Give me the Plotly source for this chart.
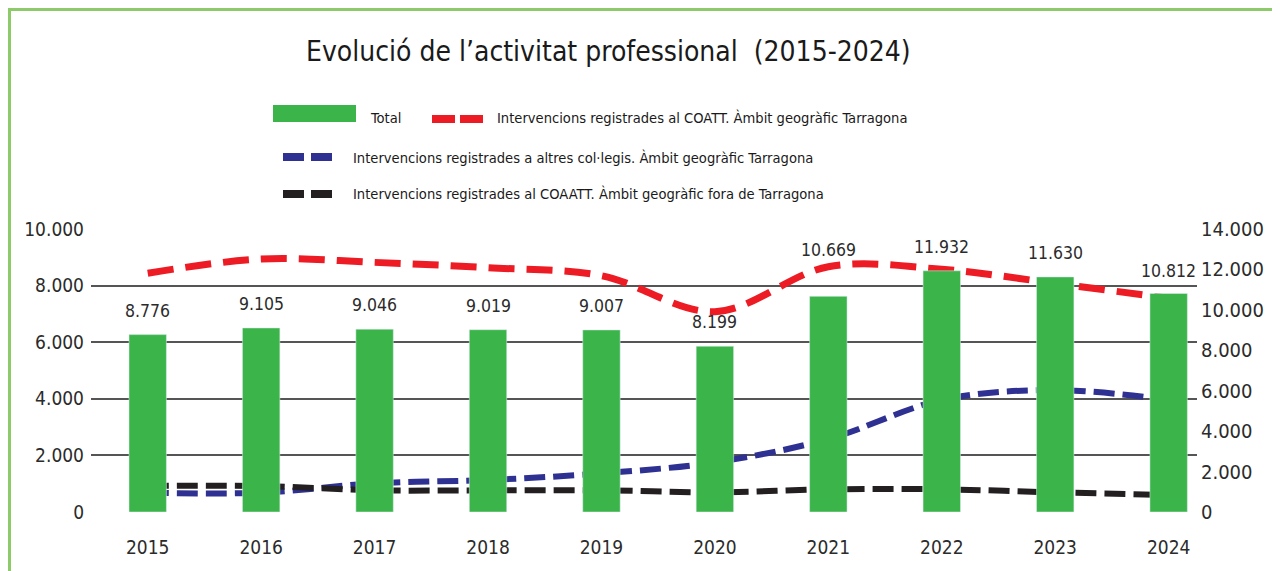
import plotly.graph_objects as go

# ---------------- data ----------------
years = [2015, 2016, 2017, 2018, 2019, 2020, 2021, 2022, 2023, 2024]
total = [8776, 9105, 9046, 9019, 9007, 8199, 10669, 11932, 11630, 10812]
coatt_tarragona = [8436, 8940, 8821, 8633, 8350, 7079, 8668, 8575, 8080, 7550]
altres_col = [682, 682, 1013, 1131, 1366, 1755, 2579, 3957, 4311, 3957]
coatt_fora = [919, 919, 766, 766, 766, 695, 801, 801, 695, 601]
left_ticks = [0, 2000, 4000, 6000, 8000, 10000]
right_ticks = [0, 2000, 4000, 6000, 8000, 10000, 12000, 14000]

title_text = "Evolució de l’activitat professional  (2015-2024)"
names = ["Total",
         "Intervencions registrades al COATT. Àmbit geogràfic Tarragona",
         "Intervencions registrades a altres col·legis. Àmbit geogràfic Tarragona",
         "Intervencions registrades al COAATT. Àmbit geogràfic fora de Tarragona"]


def fmt(v):
    return f"{v:,}".replace(",", ".")


FONT = "Liberation Sans Narrow, DejaVu Sans Condensed, Arial Narrow, sans-serif"
GREEN = "#3bb54a"
RED = "#ed1c24"
BLUE = "#2e3192"
BLACK = "#231f20"
TXT = "#2b2b2b"

# page has an 8px body margin: build the figure 8px smaller and work in screen px
OFF = 8
W, H = 1280 - OFF, 571 - OFF
L, R, T, B = 91, 1197, 229, 512  # plot area in screen pixels


def xp(px):
    return (px - L) / (R - L)


def yp(py):
    return (B - py) / (B - T)


fig = go.Figure()
fig.add_trace(go.Bar(x=years, y=total, name=names[0], marker_color=GREEN,
                     width=0.33, yaxis="y2", showlegend=False))
fig.add_trace(go.Scatter(x=years, y=coatt_tarragona, name=names[1], mode="lines",
                         line=dict(color=RED, width=7, dash="26px,12px", shape="spline"),
                         yaxis="y", showlegend=False))
fig.add_trace(go.Scatter(x=years, y=altres_col, name=names[2], mode="lines",
                         line=dict(color=BLUE, width=6, dash="21px,8px", shape="spline"),
                         yaxis="y", showlegend=False))
fig.add_trace(go.Scatter(x=years, y=coatt_fora, name=names[3], mode="lines",
                         line=dict(color=BLACK, width=6, dash="21px,8px", shape="spline"),
                         yaxis="y", showlegend=False))

annotations = []
label_shift = [12, 12, 12, 12, 12, 12, 34, 12, 12, 10]
for yr, v, s in zip(years, total, label_shift):
    annotations.append(dict(x=yr, y=v, xref="x", yref="y2", text=fmt(v), showarrow=False,
                            yanchor="bottom", yshift=s,
                            font=dict(family=FONT, size=17.5, color=TXT)))

# title
annotations.append(dict(x=xp(608), y=yp(51), xref="paper", yref="paper", text=title_text,
                        showarrow=False, xanchor="center", yanchor="middle",
                        font=dict(family=FONT, size=28, color="#1a1a1a")))

# legend texts
leg_font = dict(family=FONT, size=14.6, color="#1a1a1a")
for txt, px, py in [(names[0], 368, 117), (names[1], 495, 117),
                    (names[2], 351, 157), (names[3], 351, 193)]:
    annotations.append(dict(x=xp(px), y=yp(py), xref="paper", yref="paper", text=txt,
                            showarrow=False, xanchor="left", yanchor="middle", font=leg_font))

shapes = []
# frame
shapes.append(dict(type="line", xref="paper", yref="paper", x0=xp(8), x1=xp(1282),
                   y0=yp(9.5), y1=yp(9.5), line=dict(color="#8dcb6a", width=3)))
shapes.append(dict(type="line", xref="paper", yref="paper", x0=xp(9.5), x1=xp(9.5),
                   y0=yp(8), y1=yp(575), line=dict(color="#8dcb6a", width=3)))
# legend swatches
shapes.append(dict(type="rect", xref="paper", yref="paper", x0=xp(273), x1=xp(356),
                   y0=yp(122), y1=yp(105), fillcolor=GREEN, line=dict(width=0)))
for col, y, segs in [(RED, 119, [(432, 455), (460, 483)]),
                     (BLUE, 157, [(283, 304), (311, 332)]),
                     (BLACK, 194, [(283, 304), (311, 332)])]:
    for a, b in segs:
        shapes.append(dict(type="line", xref="paper", yref="paper", x0=xp(a), x1=xp(b),
                           y0=yp(y), y1=yp(y), line=dict(color=col, width=8)))

fig.update_layout(
    width=W, height=H,
    margin=dict(l=L - OFF, r=1280 - R, t=T - OFF, b=571 - B, autoexpand=False),
    paper_bgcolor="white", plot_bgcolor="white",
    barmode="overlay",
    xaxis=dict(range=[2014.5, 2024.25], tickvals=years, ticktext=[str(y) for y in years],
               showgrid=False, zeroline=False, showline=False, ticks="",
               ticklabelstandoff=22, automargin=False,
               tickfont=dict(family=FONT, size=19, color=TXT)),
    yaxis=dict(range=[0, 10000], tickvals=left_ticks, ticktext=[fmt(v) for v in left_ticks],
               showgrid=True, gridcolor="#555555", gridwidth=1.5, zeroline=False,
               showline=False, ticks="", ticklabelstandoff=6, automargin=False,
               tickfont=dict(family=FONT, size=19, color=TXT)),
    yaxis2=dict(range=[0, 14000], tickvals=right_ticks, ticktext=[fmt(v) for v in right_ticks],
                overlaying="y", side="right", showgrid=False, zeroline=False,
                showline=False, ticks="", ticklabelstandoff=3, automargin=False,
                tickfont=dict(family=FONT, size=20, color=TXT)),
    annotations=annotations,
    shapes=shapes,
    showlegend=False,
)

fig.write_html("out.html")
